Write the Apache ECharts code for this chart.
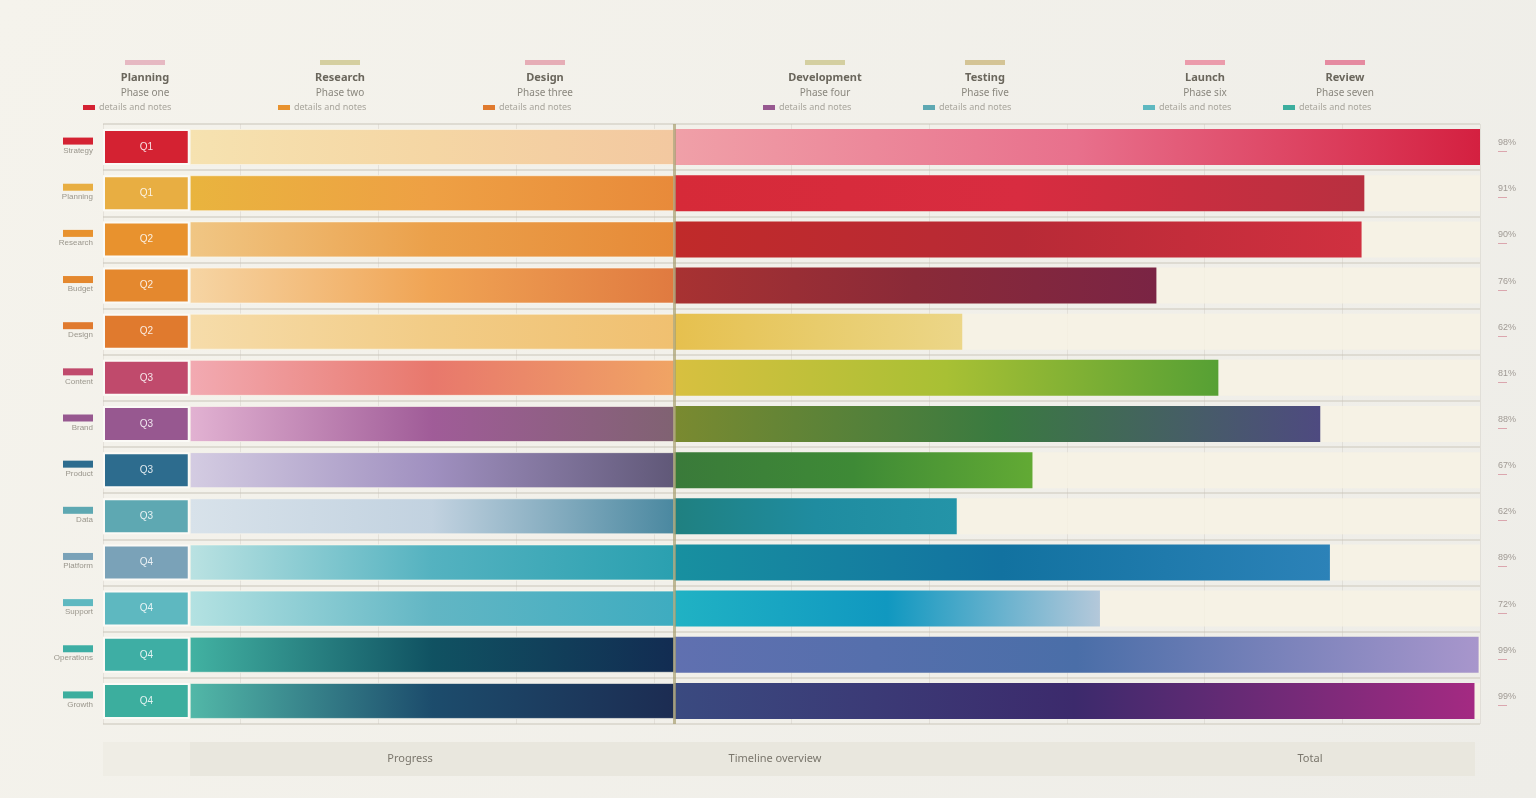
<!DOCTYPE html>
<html><head><meta charset="utf-8">
<script src="https://cdn.jsdelivr.net/npm/echarts@6/dist/echarts.min.js"></script>
<style>html,body{margin:0;padding:0;background:#f3f1ea;}#c{width:1536px;height:798px;}</style>
</head><body><div id="c"></div>
<script>
// ---- data ----
const categories = ['Strategy','Planning','Research','Budget','Design','Content','Brand','Product','Data','Platform','Support','Operations','Growth'];
const boxValues  = [6.3,6.3,6.3,6.3,6.3,6.3,6.3,6.3,6.3,6.3,6.3,6.3,6.3];
const midValues  = [35.2,35.2,35.2,35.2,35.2,35.2,35.2,35.2,35.2,35.2,35.2,35.2,35.2];
const endValues  = [58.5,50.1,49.9,35.0,20.9,39.5,46.9,26.0,20.5,47.6,30.9,58.4,58.1];
const boxLabels  = ['Q1','Q1','Q2','Q2','Q2','Q3','Q3','Q3','Q3','Q4','Q4','Q4','Q4'];
const rightLabels = ['98%','91%','90%','76%','62%','81%','88%','67%','62%','89%','72%','99%','99%'];
const legendTitles = ['Planning','Research','Design','Development','Testing','Launch','Review'];
const legendSubs = ['Phase one','Phase two','Phase three','Phase four','Phase five','Phase six','Phase seven'];
const bottomLabels = ['Progress','Timeline overview','Total'];
const splitValue = 41.5;

// ---- styles ----
const boxColors = ['#d42232','#e8ae42','#e8922e','#e4882e','#e07a2e','#c04a6c','#975890','#2d6c8e','#5ea8b2','#7aa2b8','#5eb8c0','#3eaea4','#3cae9e'];
const midStops = [
 ['#f6e2b0','#f5d6a4','#f3c8a0'],
 ['#e9b43e','#eea044','#e88a3a'],
 ['#f0c684','#eba04a','#e68a38'],
 ['#f6d5a4','#f0a454','#e07a40'],
 ['#f6dcaa','#f2cc86','#f0c070'],
 ['#f2aab2','#e8786c','#f0a464'],
 ['#e2b2d2','#a05c98','#806272'],
 ['#d4cce2','#a090c0','#605878'],
 ['#d8e2ea','#c2d2e0','#4a88a0'],
 ['#bae2e2','#54b2c0','#2aa0b0'],
 ['#b4e2e2','#62b6c4','#3eacc0'],
 ['#42b2a2','#105262','#122c52'],
 ['#52b8a8','#1c4c6c','#1c2c52']
];
const endStops = [
 ['#f0a0a8','#e8708c','#d42040'],
 ['#d62a38','#d82c40','#b83040'],
 ['#c02a2a','#b82a36','#d03040'],
 ['#a83232','#8a2a38','#7a2444'],
 ['#e6c04e','#e8cc6c','#ecd688'],
 ['#d8c040','#a8c034','#56a034'],
 ['#7a8a30','#3a7a40','#4e4a80'],
 ['#3a7a3a','#3e8a36','#62aa34'],
 ['#1f8080','#1f8ca0','#2494a8'],
 ['#1890a0','#1272a0','#2c82b8'],
 ['#20b2c4','#1098c0','#b4c8da'],
 ['#6070b0','#4a6ea8','#a896cc'],
 ['#3a4a80','#3c2a6c','#a42a82']
];
function grad(stops){
  return {type:'linear',x:0,y:0,x2:1,y2:0,colorStops:stops.map((c,i)=>({offset:i/(stops.length-1),color:c}))};
}

const chart = echarts.init(document.getElementById('c'));
const legendX = [145,340,545,825,985,1205,1345];
const accent = ['#e0a0b0','#c8c080','#e090a0','#c8c080','#c8b070','#e87890','#e06080'];
const graphics = [];
legendTitles.forEach((t,i)=>{
  graphics.push({type:'rect',shape:{x:legendX[i]-20,y:60,width:40,height:5},style:{fill:accent[i],opacity:0.7}});
  graphics.push({type:'text',x:legendX[i],y:72,style:{text:t,fill:'#6a665c',font:'bold 11px "Noto Sans"',textAlign:'center'}});
  graphics.push({type:'text',x:legendX[i],y:88,style:{text:legendSubs[i],fill:'#8a877e',font:'10px "Noto Sans"',textAlign:'center'}});
  graphics.push({type:'rect',shape:{x:legendX[i]-62,y:105,width:12,height:5},style:{fill:boxColors[i*2]}});
  graphics.push({type:'text',x:legendX[i]-46,y:103,style:{text:'details and notes',fill:'#a8a59c',font:'9px "Noto Sans"'}});
});
graphics.push({type:'rect',shape:{x:190,y:742,width:1285,height:34},style:{fill:'#e9e7de'},z:-1});
graphics.push({type:'rect',shape:{x:103,y:742,width:87,height:34},style:{fill:'#efede5'},z:-1});
const bx=[410,775,1310];
bottomLabels.forEach((t,i)=>graphics.push({type:'text',x:bx[i],y:753,style:{text:t,fill:'#7a766c',font:'11px "Noto Sans"',textAlign:'center'}}));

chart.setOption({
  backgroundColor:{type:'linear',x:0,y:0,x2:1,y2:1,colorStops:[{offset:0,color:'#f5f3ec'},{offset:1,color:'#eeede8'}]},
  animation:false,
  grid:{left:103,right:56,top:124,bottom:74},
  xAxis:{type:'value',min:0,max:100,interval:10,axisLabel:{show:false},axisLine:{show:false},axisTick:{show:false},
    splitLine:{show:true,lineStyle:{color:'rgba(200,196,186,0.35)'}}},
  yAxis:[
    {type:'category',data:categories,inverse:true,axisLine:{show:false},axisTick:{show:false},
     splitLine:{show:true,lineStyle:{color:'#dedbd2',width:2}},
     axisLabel:{margin:10,align:'right',formatter:(v,i)=>'{b'+i+'|}\n{t|'+v+'}',
       rich:Object.assign({t:{fontSize:8,color:'#9a968c',lineHeight:12}},
         Object.fromEntries(boxColors.map((c,i)=>['b'+i,{backgroundColor:c,width:30,height:7}])))}},
    {type:'category',data:rightLabels,inverse:true,position:'right',axisLine:{show:false},axisTick:{show:false},
     axisLabel:{margin:18,align:'left',fontSize:9,color:'#a09a94',formatter:v=>v+'\n{s|—}',rich:{s:{color:'#d08090',fontSize:9}}}}
  ],
  series:[
    {name:'box',type:'bar',stack:'a',barWidth:'78%',data:boxValues.map((v,i)=>({value:v,itemStyle:{color:boxColors[i]}})),
     itemStyle:{borderColor:'#fbfaf6',borderWidth:2},
     showBackground:true,backgroundStyle:{color:'rgba(248,243,228,0.8)'},
     label:{show:true,formatter:p=>boxLabels[p.dataIndex],color:'rgba(255,255,255,0.85)',fontSize:10}},
    {name:'mid',type:'bar',stack:'a',data:midValues.map((v,i)=>({value:v,itemStyle:{color:grad(midStops[i])}})),
     itemStyle:{borderColor:'rgba(250,248,240,0.6)',borderWidth:1},
     markLine:{symbol:'none',silent:true,label:{show:false},lineStyle:{color:'#a8a070',width:3,type:'solid',opacity:0.7},data:[{xAxis:splitValue}]}},
    {name:'end',type:'bar',stack:'a',data:endValues.map((v,i)=>({value:v,itemStyle:{color:grad(endStops[i])}}))}
  ],
  graphic:graphics
});
</script></body></html>
